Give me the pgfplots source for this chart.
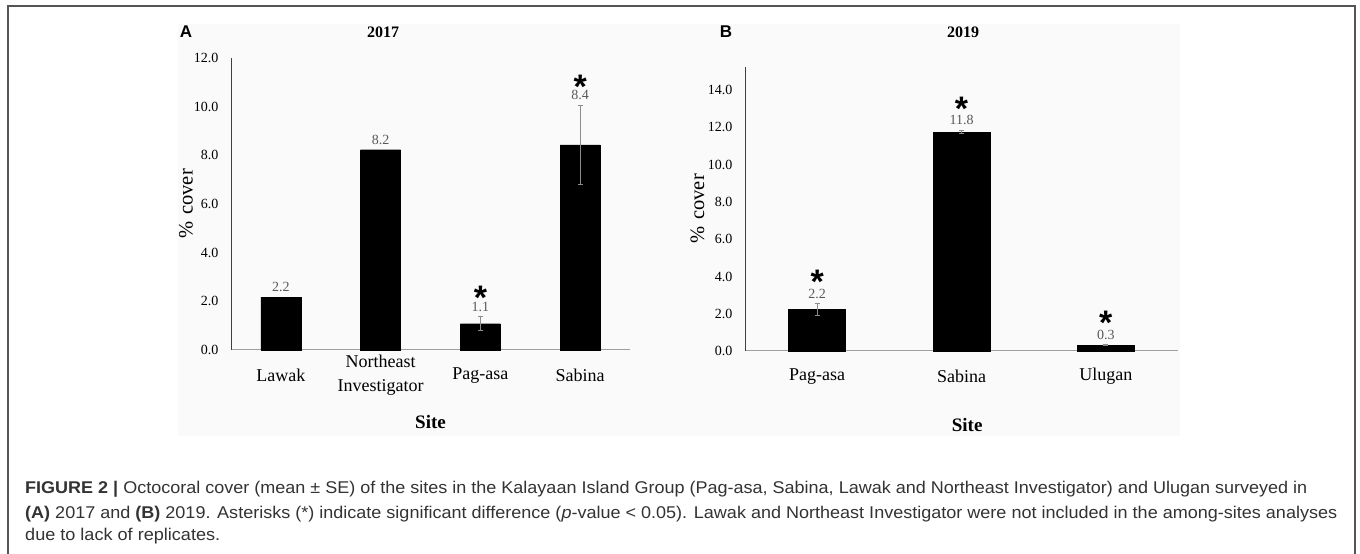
\documentclass[border=0pt]{standalone}
\usepackage{fontspec}
\setmainfont{Liberation Serif}
\newfontfamily\sansfont{Liberation Sans}
\usepackage{graphicx}
\usepackage{pgfplots}
\pgfplotsset{compat=1.18}

\definecolor{vallab}{HTML}{595959}
\definecolor{errc}{HTML}{8C8C8C}
\definecolor{bgc}{HTML}{FAFAFA}
\definecolor{framec}{HTML}{555555}
\definecolor{capc}{HTML}{333333}
\newcommand\asterisk{{\sansfont\bfseries *}}

\pgfplotsset{
  panel/.style={
    scale only axis, clip=false,
    axis x line=bottom, axis y line=left,
    axis line style={-},
    x axis line style={-, draw=gray!75, line width=1pt},
    y axis line style={-, draw=black!75, line width=0.8pt},
    major tick length=0pt,
    ymin=0,
    xtick=data,
    /pgf/number format/assume math mode=true,
    yticklabel style={font=\fontsize{14}{16}\selectfont, anchor=east, xshift=-9pt,
      /pgf/number format/fixed, /pgf/number format/fixed zerofill, /pgf/number format/precision=1},
    xticklabel style={font=\fontsize{18}{24}\selectfont, align=center, anchor=center, yshift=-25.5pt},
    ylabel={\%\hspace{0.35em}cover},
    ylabel style={font=\fontsize{20.5}{22}\selectfont, anchor=center},
    xlabel={Site},
    xlabel style={font=\bfseries\fontsize{19}{22}\selectfont, anchor=center},
  },
  barsty/.style={ybar, bar width=40pt, bar shift=0pt, fill=black, draw=black},
  errsty/.style={draw=none, mark=none, forget plot,
    error bars/.cd, y dir=both, y explicit,
    error bar style={draw=errc, line width=0.9pt},
    error mark options={rotate=90, draw=errc, mark size=2.5pt, line width=0.9pt}},
  labsty/.style={draw=none, mark=none, point meta=explicit symbolic, nodes near coords,
    every node near coord/.append style={anchor=center, inner sep=0pt, yshift=10pt, text=vallab, font=\fontsize{14}{16}\selectfont}},
  aststy/.style={draw=none, mark=none, nodes near coords={\asterisk},
    every node near coord/.append style={anchor=base, inner sep=0pt, yshift=#1, text=black, font=\fontsize{34}{36}\selectfont}},
  aststy/.default=7pt,
}

\begin{document}
\begin{tikzpicture}[x=1pt,y=1pt]
\useasboundingbox (0,0) rectangle (1360,554);
\fill[white] (0,0) rectangle (1360,554);
\fill[bgc] (178,118) rectangle (1180,530);
\draw[framec, line width=1.5pt] (8,0) -- (8,548) -- (1355,548) -- (1355,0);

% Panel A
\begin{axis}[panel, at={(231pt,204pt)}, anchor=south west,
  width=399pt, height=292pt, xmin=-0.5, xmax=3.5, ymax=12,
  ytick={0,2,4,6,8,10,12},
  xticklabels={Lawak,{Northeast\\Investigator},Pag-asa,Sabina},
  ylabel style={at={(axis description cs:-0.113,0.5)}},
  xlabel style={at={(axis description cs:0.5,-0.247)}}]
\addplot[barsty] coordinates {(0,2.17) (1,8.23) (2,1.08) (3,8.43)};
\addplot[errsty] coordinates {(2,1.08) +- (0,0.28) (3,8.43) +- (0,1.63)};
\addplot[labsty] coordinates {(0,2.17) [2.2] (1,8.23) [8.2] (2,1.36) [1.1] (3,10.06) [8.4]};
\addplot[aststy] coordinates {(2,1.36) (3,10.06)};
\end{axis}

% Panel B
\begin{axis}[panel, at={(745pt,203pt)}, anchor=south west,
  width=433pt, height=284pt, xmin=-0.5, xmax=2.5, ymax=15.24,
  ytick={0,2,4,6,8,10,12,14},
  xticklabels={Pag-asa,Sabina,Ulugan},
  ylabel style={at={(axis description cs:-0.11,0.5)}},
  xlabel style={at={(axis description cs:0.513,-0.26)}}]
\addplot[barsty, bar width=57pt] coordinates {(0,2.23) (1,11.75) (2,0.31)};
\addplot[errsty] coordinates {(0,2.23) +- (0,0.32) (1,11.75) +- (0,0.1) (2,0.31) +- (0,0.03)};
\addplot[labsty] coordinates {(0,2.55) [2.2] (1,11.85) [11.8] (2,0.34) [0.3]};
\addplot[aststy=10pt] coordinates {(0,2.55) (1,11.85) (2,0.34)};
\end{axis}

% Panel letters and titles
\node[font=\sansfont\bfseries\fontsize{17}{20}\selectfont] at (186,522) {A};
\node[font=\bfseries\fontsize{16}{18}\selectfont] at (383,522) {2017};
\node[font=\sansfont\bfseries\fontsize{17}{20}\selectfont] at (726,522) {B};
\node[font=\bfseries\fontsize{16}{18}\selectfont] at (963,522) {2019};

% Caption
\begin{scope}[every node/.style={anchor=base west, inner sep=0pt, text=capc, font=\sansfont\fontsize{17}{20}\selectfont}]
\node at (25,60) {\resizebox{1282pt}{\height}{\textbf{FIGURE 2 |} Octocoral cover (mean ± SE) of the sites in the Kalayaan Island Group (Pag-asa, Sabina, Lawak and Northeast Investigator) and Ulugan surveyed in}};
\node at (25,35.5) {\resizebox{1312pt}{\height}{\textbf{(A)} 2017 and \textbf{(B)} 2019. Asterisks (*) indicate significant difference (\textit{p}-value < 0.05). Lawak and Northeast Investigator were not included in the among-sites analyses}};
\node at (25,13.5) {\resizebox{195pt}{\height}{due to lack of replicates.}};
\end{scope}
\end{tikzpicture}
\end{document}
